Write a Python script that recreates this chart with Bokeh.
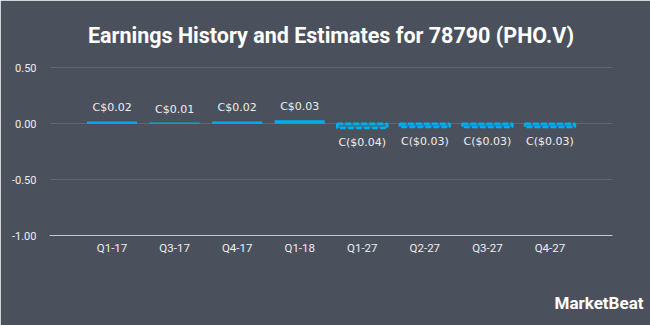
from bokeh.plotting import figure
from bokeh.models import (FactorRange, Range1d, FixedTicker, NumeralTickFormatter, Title,
                          ColumnDataSource)
from bokeh.core.properties import value
from bokeh.embed import file_html
from bokeh.resources import INLINE

quarters = ["Q1-17", "Q3-17", "Q4-17", "Q1-18", "Q1-27", "Q2-27", "Q3-27", "Q4-27"]
actual_q = ["Q1-17", "Q3-17", "Q4-17", "Q1-18"]
actual_eps = [0.02, 0.01, 0.02, 0.03]
actual_labels = ["C$0.02", "C$0.01", "C$0.02", "C$0.03"]
est_q = ["Q1-27", "Q2-27", "Q3-27", "Q4-27"]
est_eps = [-0.04, -0.03, -0.03, -0.03]
est_labels = ["C($0.04)", "C($0.03)", "C($0.03)", "C($0.03)"]
y_ticks = [-1.0, -0.5, 0.0, 0.5]

BG = "#4b515c"
BLUE = "#00aeef"
FONT = "Roboto"

p = figure(width=650, height=325, output_backend="svg", toolbar_location=None,
           x_range=FactorRange(factors=quarters, range_padding=0.5, range_padding_units="absolute"),
           y_range=Range1d(-1.0, 0.6),
           min_border_left=49, min_border_right=38, min_border_top=56, min_border_bottom=90)
p.background_fill_color = BG
p.border_fill_color = BG
# background-coloured outline hides the light seam at the frame edge
p.outline_line_color = BG
p.outline_line_width = 2

p.title.text = "Earnings History and Estimates for 78790 (PHO.V)"
p.title.align = "center"
p.title.text_color = "#ffffff"
p.title.text_font = FONT
p.title.text_font_style = "bold"
p.title.text_font_size = "21.5px"
p.title.standoff = 17

src_a = ColumnDataSource(dict(q=actual_q, v=actual_eps, t=actual_labels))
src_e = ColumnDataSource(dict(q=est_q, v=est_eps, t=est_labels))

p.vbar(x="q", top="v", bottom=0, width=0.8, source=src_a, fill_color=BLUE, line_color=None)
p.vbar(x="q", top="v", bottom=0, width=0.8, source=src_e, fill_color=BLUE, fill_alpha=0.4,
       line_color=BLUE, line_width=2.5, line_dash="6 2")

p.text(x="q", y="v", text="t", source=src_a, text_align="center", text_baseline="bottom",
       y_offset=-7, text_color="#eeeeee", text_font=value("DejaVu Sans"), text_font_size="11px")
p.text(x="q", y="v", text="t", source=src_e, text_align="center", text_baseline="top",
       y_offset=8, text_color="#eeeeee", text_font=value("DejaVu Sans"), text_font_size="11px")

p.xgrid.visible = False
p.ygrid.grid_line_color = "#60666f"
p.ygrid.ticker = FixedTicker(ticks=y_ticks)

p.yaxis.ticker = FixedTicker(ticks=y_ticks)
p.yaxis.formatter = NumeralTickFormatter(format="0.00")
p.yaxis.axis_line_color = None
p.yaxis.major_tick_line_color = None
p.yaxis.minor_tick_line_color = None
p.yaxis.major_label_text_color = "#eeeeee"
p.yaxis.major_label_text_font = FONT
p.yaxis.major_label_text_font_size = "11px"
p.yaxis.major_label_standoff = 7

p.xaxis.axis_line_color = "#c8c8c8"
p.xaxis.axis_line_width = 1
p.xaxis.major_tick_line_color = None
p.xaxis.minor_tick_line_color = None
p.xaxis.major_tick_in = 0
p.xaxis.major_tick_out = 0
p.xaxis.major_label_text_color = "#eeeeee"
p.xaxis.major_label_text_font = FONT
p.xaxis.major_label_text_font_size = "11.5px"
p.xaxis.major_label_standoff = 5

spacer = Title(text=".", text_color=BG, text_font_size="6px", standoff=27)
p.add_layout(spacer, "below")
logo = Title(text="MarketBeat", align="right", text_color="#ffffff", text_font=FONT,
             text_font_style="bold", text_font_size="17px", standoff=0, offset=-31)
p.add_layout(logo, "below")

open("out.html", "w").write(file_html(p, INLINE))
